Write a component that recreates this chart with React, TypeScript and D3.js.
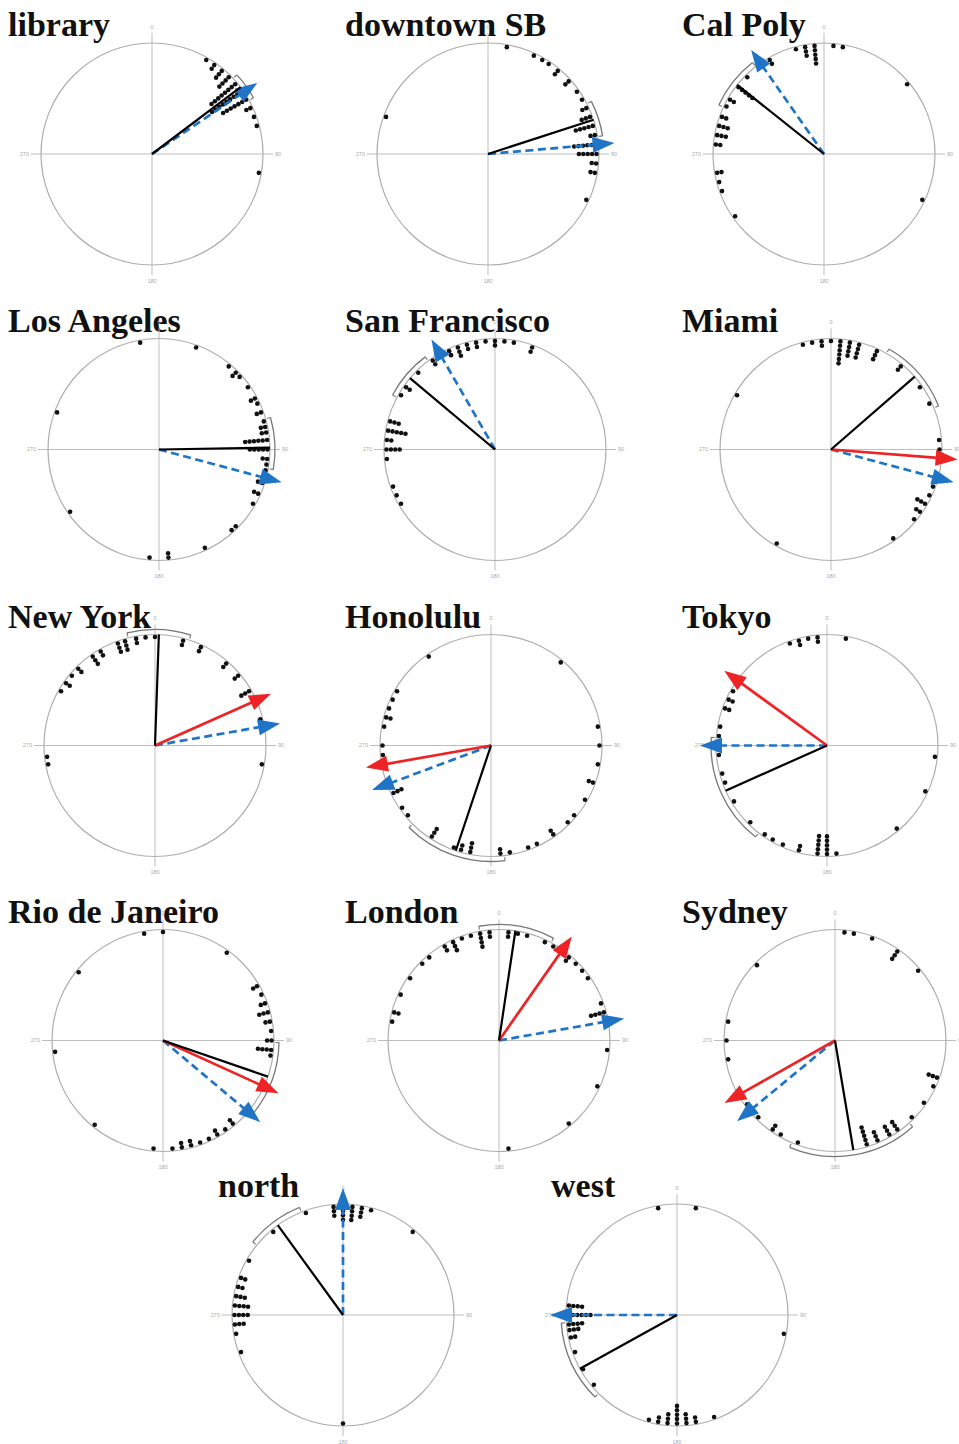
import React from 'react';
import * as d3 from 'd3';

type Stack = [number, number]; // [angle in degrees clockwise from north, stacked count]

const libraryDots: Stack[] = [[30,1],[35,2],[40,3],[45,4],[50,8],[55,9],[60,7],[65,2],[70,1],[75,1],[100,1]];
const downtownDots: Stack[] = [[10,1],[25,1],[30,1],[34,1],[40,2],[48,2],[55,1],[60,1],[65,2],[70,3],[75,5],[80,2],[85,6],[90,5],[95,2],[100,2],[115,1],[290,1]];
const calPolyDots: Stack[] = [[5,1],[10,1],[50,1],[115,1],[345,1],[350,3],[355,5],[330,2],[315,1],[308,5],[300,2],[296,1],[290,2],[285,3],[280,3],[275,2],[260,2],[255,1],[250,1],[235,1]];
const losAngelesDots: Stack[] = [[350,1],[20,1],[40,1],[45,2],[48,1],[55,1],[62,2],[65,1],[70,2],[75,1],[78,2],[81,2],[85,6],[90,5],[95,2],[98,1],[101,1],[108,2],[114,2],[120,1],[135,1],[138,1],[155,1],[175,2],[185,1],[235,1],[290,1]];
const sanFranciscoDots: Stack[] = [[325,2],[335,2],[340,3],[345,2],[350,2],[355,1],[0,2],[5,1],[10,1],[20,2],[315,1],[305,2],[300,1],[285,3],[280,5],[275,2],[270,4],[265,1],[250,1],[245,1],[240,1]];
const miamiDots: Stack[] = [[345,1],[350,1],[355,2],[0,1],[5,6],[10,4],[15,4],[25,3],[40,2],[55,1],[65,1],[85,1],[90,1],[110,1],[115,1],[120,3],[125,2],[130,1],[145,1],[210,1],[300,1]];
const newYorkDots: Stack[] = [[0,1],[355,1],[350,2],[344,3],[340,3],[330,2],[325,3],[315,2],[310,1],[305,2],[300,1],[15,2],[25,2],[41,2],[50,2],[60,3],[76,1],[100,1],[260,1],[264,1]];
const honoluluDots: Stack[] = [[325,1],[40,1],[300,1],[295,1],[290,1],[285,2],[280,1],[270,1],[265,1],[248,1],[244,3],[235,1],[230,1],[213,3],[200,1],[196,2],[191,3],[175,2],[170,1],[160,1],[155,1],[145,2],[135,1],[130,1],[120,1],[110,2],[100,1],[90,1],[80,1]];
const tokyoDots: Stack[] = [[340,1],[345,2],[350,1],[355,2],[10,1],[300,1],[295,2],[290,2],[280,1],[275,1],[270,1],[265,1],[255,1],[250,1],[239,1],[225,1],[215,1],[210,1],[204,1],[195,2],[185,5],[180,5],[175,1],[96,1],[115,1],[140,1]];
const rioDots: Stack[] = [[350,1],[0,1],[36,1],[309,1],[60,2],[65,1],[70,2],[75,3],[80,2],[85,1],[90,2],[95,4],[98,1],[264,1],[219,1],[185,1],[175,1],[170,2],[165,2],[160,1],[155,1],[150,2],[145,1],[140,2]];
const londonDots: Stack[] = [[345,1],[340,1],[335,3],[330,2],[320,1],[315,1],[305,1],[295,1],[285,2],[280,1],[350,4],[355,2],[5,2],[10,1],[15,1],[25,1],[30,1],[40,2],[45,1],[50,1],[55,1],[70,1],[75,4],[95,1],[115,1],[140,1],[175,1]];
const sydneyDots: Stack[] = [[5,1],[10,1],[20,1],[35,3],[50,1],[314,1],[280,1],[270,1],[260,1],[110,3],[115,1],[125,1],[135,1],[163,5],[157,3],[150,3],[145,3],[200,1],[210,1],[215,2],[225,1],[230,1],[234,1]];
const northDots: Stack[] = [[355,3],[0,4],[5,4],[10,3],[15,1],[340,1],[40,1],[180,1],[320,1],[300,1],[290,2],[285,2],[280,3],[275,4],[270,4],[265,3],[260,1],[250,1]];
const westDots: Stack[] = [[350,1],[10,1],[100,1],[275,4],[270,6],[265,4],[262,3],[258,2],[250,1],[240,1],[230,1],[190,2],[185,3],[180,5],[175,3],[170,2],[160,1],[195,1]];

const panelNames = ['library','downtown SB','Cal Poly','Los Angeles','San Francisco','Miami','New York','Honolulu','Tokyo','Rio de Janeiro','London','Sydney','north','west'];
const dotSets = [libraryDots, downtownDots, calPolyDots, losAngelesDots, sanFranciscoDots, miamiDots, newYorkDots, honoluluDots, tokyoDots, rioDots, londonDots, sydneyDots, northDots, westDots];
const meanAngles = [53, 72, 308.5, 89, 310, 49, 2, 198.5, 246, 109, 8.5, 170.5, 324, 241];
const ciStarts = [47, 63, 295, 74, 298, 30, 346, 173, 218, 91, 350, 138, 309, 225];
const ciEnds = [61, 81, 322, 100, 323, 68, 18, 225, 274, 129, 28, 203, 338, 266];
const blueAngles = [56, 85, 325, 105, 330, 105, 80, 249.5, 270, 130, 80, 230.5, 0, 270];
const redAngles: (number | null)[] = [null, null, null, null, null, 94.5, 66, 260, 306, 114.5, 35, 240.5, null, null];
const axisLabels = [{ a: 0, t: '0' }, { a: 90, t: '90' }, { a: 180, t: '180' }, { a: 270, t: '270' }];

const W = 959, H = 1444, R = 111;
const rowY = [154, 449.5, 745.5, 1040.5, 1315];
const rowNudge = [-3, 4, 0, 8];
const colX = d3.scaleLinear().domain([0, 2]).range([155, 827]);
const lastColX = d3.scaleLinear().domain([0, 1]).range([343, 677]);
const titleX = d3.scaleLinear().domain([0, 2]).range([8, 682]);
const lastTitleX = d3.scaleLinear().domain([0, 1]).range([218, 551]);

const rad = (deg: number) => (deg * Math.PI) / 180;
const pol = (deg: number, d: number): [number, number] => [d * Math.sin(rad(deg)), -d * Math.cos(rad(deg))];

const BLUE = '#1f74c6';
const RED = '#ee2326';

function Arrow({ angle, color, dashed }: { angle: number; color: string; dashed: boolean }) {
  const L = 127, head = 22, hw = 8;
  const [bx, by] = pol(angle, L - head + 2);
  const tip = pol(angle, L);
  const base = pol(angle, L - head);
  const perp = pol(angle + 90, hw);
  const headPath = d3.line()([
    tip,
    [base[0] + perp[0], base[1] + perp[1]],
    [base[0] - perp[0], base[1] - perp[1]],
  ] as [number, number][]) + 'Z';
  return (
    <g>
      <line x1={0} y1={0} x2={bx} y2={by} stroke={color} strokeWidth={2.7} strokeDasharray={dashed ? '8,4.5' : undefined} />
      <path d={headPath} fill={color} />
    </g>
  );
}

function Panel({ i }: { i: number }) {
  const row = Math.floor(i / 3);
  const col = i % 3;
  const cx = row < 4 ? colX(col) + rowNudge[row] : lastColX(col);
  const cy = rowY[row];
  const tx = row < 4 ? titleX(col) : lastTitleX(col);
  const dots: [number, number][] = [];
  dotSets[i].forEach(([a, n]) => {
    for (let k = 0; k < n; k++) dots.push(pol(a, R - 2.5 - k * 4.4));
  });
  let s = ciStarts[i], e = ciEnds[i];
  if (e < s) e += 360;
  const arcR = R + 5;
  const p = d3.path();
  p.arc(0, 0, arcR, rad(s - 90), rad(e - 90), false);
  const t1a = pol(s, arcR), t1b = pol(s, arcR - 3.5);
  const t2a = pol(e, arcR), t2b = pol(e, arcR - 3.5);
  const meanEnd = pol(meanAngles[i], R);
  const red = redAngles[i];
  return (
    <g>
      <text x={tx} y={cy - 118} fontFamily="'Liberation Serif', 'Times New Roman', serif" fontWeight="bold" fontSize={34} fill="#111">
        {panelNames[i]}
      </text>
      <g transform={`translate(${cx},${cy})`}>
        <line x1={-(R + 10)} y1={0} x2={R + 10} y2={0} stroke="#bdbdbd" strokeWidth={1} />
        <line x1={0} y1={-(R + 10)} x2={0} y2={R + 10} stroke="#bdbdbd" strokeWidth={1} />
        <circle r={R} fill="none" stroke="#adadad" strokeWidth={1.2} />
        {axisLabels.map((l) => {
          const [x, y] = pol(l.a, R + 16);
          const anchor = l.a === 90 ? 'start' : l.a === 270 ? 'end' : 'middle';
          const xx = l.a === 90 ? x - 4 : l.a === 270 ? x + 4 : x;
          return (
            <text key={l.t} x={xx} y={y} dy="0.35em" fontSize={5.5} fill="#aaa" textAnchor={anchor} fontFamily="Arial, 'Liberation Sans', sans-serif">
              {l.t}
            </text>
          );
        })}
        {dots.map((d, k) => (
          <circle key={k} cx={d[0]} cy={d[1]} r={2.3} fill="#111" />
        ))}
        <path d={p.toString()} fill="none" stroke="#777" strokeWidth={1.3} />
        <line x1={t1a[0]} y1={t1a[1]} x2={t1b[0]} y2={t1b[1]} stroke="#777" strokeWidth={1.1} />
        <line x1={t2a[0]} y1={t2a[1]} x2={t2b[0]} y2={t2b[1]} stroke="#777" strokeWidth={1.1} />
        <Arrow angle={blueAngles[i]} color={BLUE} dashed={true} />
        {red !== null && <Arrow angle={red} color={RED} dashed={false} />}
        <line x1={0} y1={0} x2={meanEnd[0]} y2={meanEnd[1]} stroke="#000" strokeWidth={2.2} />
      </g>
    </g>
  );
}

export default function App() {
  return (
    <svg width={W} height={H} viewBox={`0 0 ${W} ${H}`} style={{ position: 'absolute', left: 0, top: 0, background: '#fff' }}>
      <rect width={W} height={H} fill="#fff" />
      {panelNames.map((_, i) => (
        <Panel key={i} i={i} />
      ))}
    </svg>
  );
}
